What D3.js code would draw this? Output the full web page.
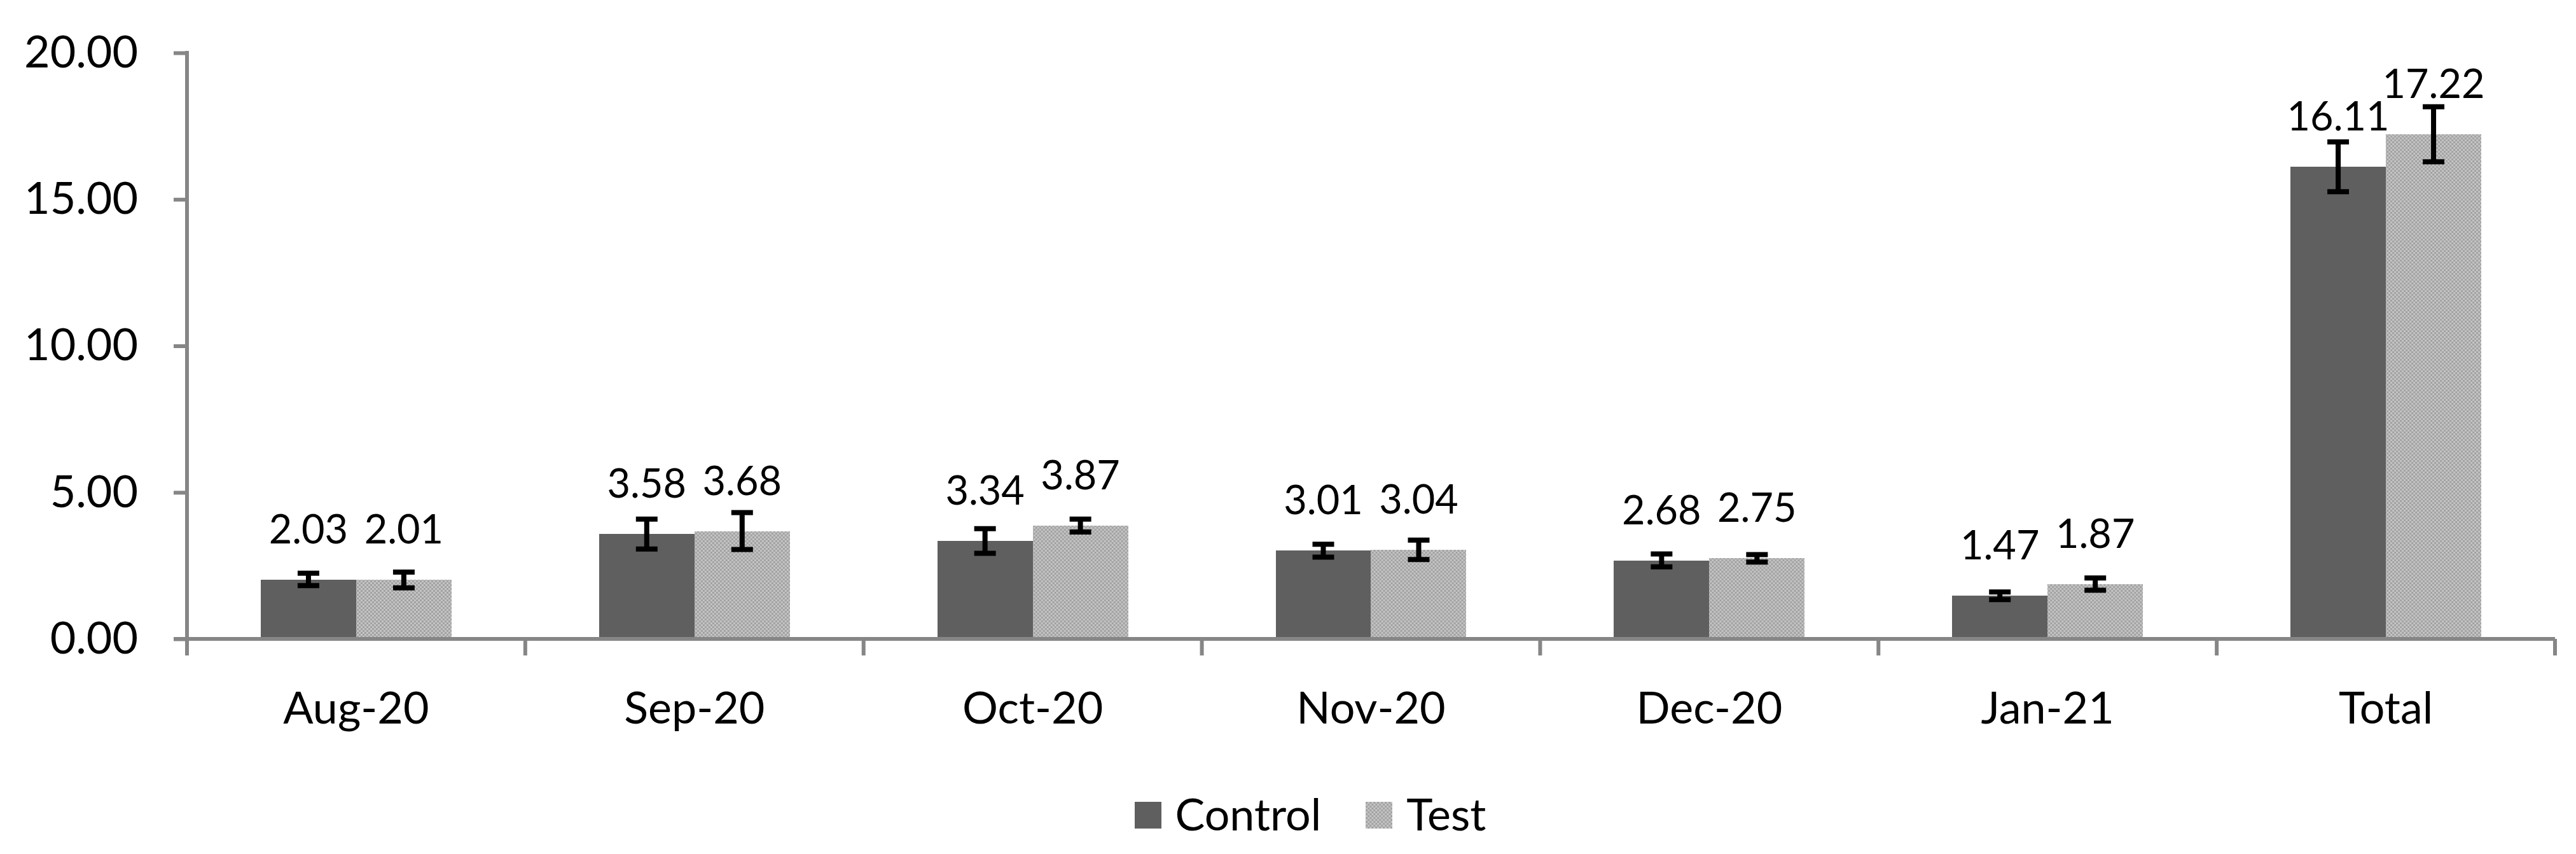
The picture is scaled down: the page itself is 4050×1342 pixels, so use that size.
<!DOCTYPE html>
<html>
<head>
<meta charset="utf-8">
<script src="https://cdn.jsdelivr.net/npm/d3@7"></script>
<style>
    html, body { margin: 0; padding: 0; background: #fff; }
    svg text { font-family: Lato, "Open Sans", sans-serif; fill: #000; }
</style>
</head>
<body>
<svg id="chart" width="4050" height="1342"></svg>
<script>
var months = ["Aug-20", "Sep-20", "Oct-20", "Nov-20", "Dec-20", "Jan-21", "Total"];
var seriesNames = ["Control", "Test"];
var controlValues = [2.03, 3.58, 3.34, 3.01, 2.68, 1.47, 16.11];
var testValues = [2.01, 3.68, 3.87, 3.04, 2.75, 1.87, 17.22];
var controlErrors = [0.21, 0.51, 0.42, 0.22, 0.22, 0.13, 0.85];
var testErrors = [0.27, 0.63, 0.22, 0.33, 0.13, 0.21, 0.94];
var yTicks = [0, 5, 10, 15, 20];

(function () {
    var svg = d3.select("#chart"),
        axisColor = "#868686",
        left = 294,
        right = 4017,
        top = 83,
        bottom = 1004;

    // test bars use a fine grey dither like the office pattern fill
    var pat = svg.append("defs").append("pattern")
        .attr("id", "dots")
        .attr("patternUnits", "userSpaceOnUse")
        .attr("width", 6)
        .attr("height", 6);
    pat.append("rect").attr("width", 6).attr("height", 6).attr("fill", "#c4c4c4");
    pat.append("rect").attr("width", 3).attr("height", 3).attr("fill", "#a2a2a2");
    pat.append("rect").attr("x", 3).attr("y", 3).attr("width", 3).attr("height", 3).attr("fill", "#a2a2a2");

    var fills = { Control: "#5f5f5f", Test: "url(#dots)" };

    var rows = months.map(function (m, i) {
        return {
            month: m,
            bars: [
                { name: "Control", value: controlValues[i], err: controlErrors[i] },
                { name: "Test", value: testValues[i], err: testErrors[i] }
            ]
        };
    });

    var x = d3.scaleBand().domain(months).range([left, right]).paddingInner(0).paddingOuter(0);
    var inner = d3.scaleBand().domain(seriesNames)
        .range([x.bandwidth() * 0.218, x.bandwidth() * 0.782]);
    var y = d3.scaleLinear().domain([0, 20]).range([bottom, top]);

    // bars
    var groups = svg.append("g").selectAll("g")
        .data(rows)
        .enter().append("g")
        .attr("transform", function (d) { return "translate(" + x(d.month) + ",0)"; });

    groups.selectAll("rect")
        .data(function (d) { return d.bars; })
        .enter().append("rect")
        .attr("x", function (d) { return inner(d.name); })
        .attr("y", function (d) { return y(d.value); })
        .attr("width", inner.bandwidth())
        .attr("height", function (d) { return bottom - y(d.value); })
        .attr("fill", function (d) { return fills[d.name]; })
        .attr("shape-rendering", "crispEdges");

    // axes
    var yAxis = d3.axisLeft(y).tickValues(yTicks).tickSize(21).tickPadding(56)
        .tickFormat(d3.format(".2f"));
    var gy = svg.append("g").attr("transform", "translate(" + left + ",0)").call(yAxis);
    gy.select(".domain").remove();
    gy.append("line").attr("x1", 0).attr("x2", 0).attr("y1", top - 3).attr("y2", bottom + 26);
    gy.selectAll("line").attr("stroke", axisColor).attr("stroke-width", 6);
    gy.selectAll("text").attr("font-size", 70).attr("font-family", "Lato").attr("fill", "#000");

    var gx = svg.append("g").attr("transform", "translate(0," + bottom + ")");
    gx.append("line")
        .attr("x1", left - 21).attr("x2", right)
        .attr("stroke", axisColor).attr("stroke-width", 6);
    gx.selectAll(".tick")
        .data(months.map(function (m) { return x(m) + x.bandwidth(); }))
        .enter().append("line")
        .attr("x1", function (d) { return d; })
        .attr("x2", function (d) { return d; })
        .attr("y1", 0).attr("y2", 26)
        .attr("stroke", axisColor).attr("stroke-width", 6);
    gx.selectAll("text")
        .data(months)
        .enter().append("text")
        .attr("x", function (d) { return x(d) + x.bandwidth() / 2; })
        .attr("y", 133)
        .attr("text-anchor", "middle")
        .attr("font-size", 70)
        .text(function (d) { return d; });

    // error bars
    var errs = groups.selectAll("g.err")
        .data(function (d) { return d.bars; })
        .enter().append("g")
        .attr("class", "err")
        .attr("stroke", "#000")
        .attr("stroke-width", 8);
    errs.append("line")
        .attr("x1", function (d) { return inner(d.name) + inner.bandwidth() / 2; })
        .attr("x2", function (d) { return inner(d.name) + inner.bandwidth() / 2; })
        .attr("y1", function (d) { return y(d.value + d.err); })
        .attr("y2", function (d) { return y(d.value - d.err); });
    [1, -1].forEach(function (s) {
        errs.append("line")
            .attr("x1", function (d) { return inner(d.name) + inner.bandwidth() / 2 - 17; })
            .attr("x2", function (d) { return inner(d.name) + inner.bandwidth() / 2 + 17; })
            .attr("y1", function (d) { return y(d.value + s * d.err); })
            .attr("y2", function (d) { return y(d.value + s * d.err); });
    });

    // value labels
    groups.selectAll("text.val")
        .data(function (d) { return d.bars; })
        .enter().append("text")
        .attr("class", "val")
        .attr("x", function (d) { return inner(d.name) + inner.bandwidth() / 2; })
        .attr("y", function (d) { return y(d.value) - 57; })
        .attr("text-anchor", "middle")
        .attr("font-size", 63)
        .text(function (d) { return d.value.toFixed(2); });

    // legend
    var legend = svg.append("g").attr("transform", "translate(0,1260)");
    var cursor = 0;
    var items = seriesNames.map(function (name) {
        var g = legend.append("g");
        g.append("rect").attr("width", 42).attr("height", 42).attr("fill", fills[name])
            .attr("shape-rendering", "crispEdges");
        var t = g.append("text").attr("x", 64).attr("y", 45).attr("font-size", 70).text(name);
        var w = 64 + t.node().getComputedTextLength();
        g.attr("transform", "translate(" + cursor + ",0)");
        cursor += w + 70;
        return g;
    });
    var total = cursor - 70;
    legend.attr("transform", "translate(" + (2060 - total / 2) + ",1260)");
}());
</script>
</body>
</html>
